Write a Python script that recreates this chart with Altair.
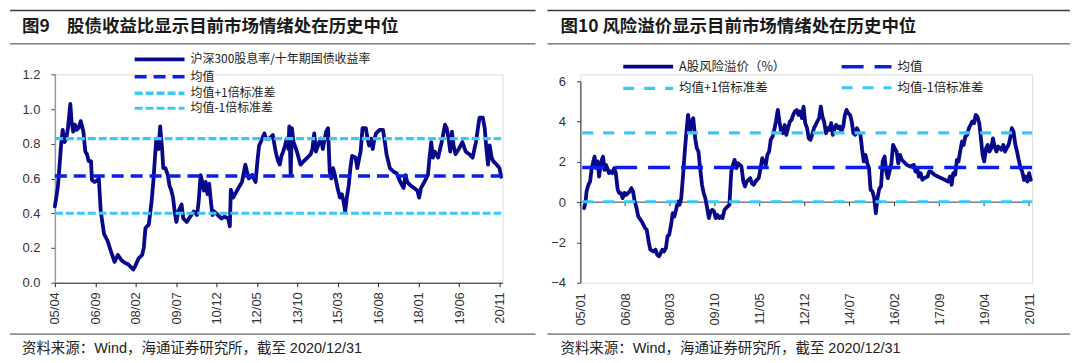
import altair as alt
import pandas as pd

LATIN = "Liberation Sans, Arial, Noto Sans CJK SC, sans-serif"
CJK = "Noto Sans CJK SC, Liberation Sans, sans-serif"

TITLE_L = "图9\u3000股债收益比显示目前市场情绪处在历史中位"
TITLE_R = "图10 风险溢价显示目前市场情绪处在历史中位"
SOURCE = "资料来源：Wind，海通证券研究所，截至 2020/12/31"

NAMES_L = ["沪深300股息率/十年期国债收益率", "均值", "均值+1倍标准差", "均值-1倍标准差"]
NAMES_R = ["A股风险溢价（%）", "均值", "均值+1倍标准差", "均值-1倍标准差"]

# reference levels: mean, mean+1sd, mean-1sd
REF_L = [0.615, 0.83, 0.40]
REF_R = [1.72, 3.44, 0.02]

TICKS_L = ["05/04", "06/09", "08/02", "09/07", "10/12", "12/05", "13/10",
           "15/03", "16/08", "18/01", "19/06", "20/11"]
TICKS_R = ["05/01", "06/08", "08/03", "09/10", "11/05", "12/12", "14/07",
           "16/02", "17/09", "19/04", "20/11"]

Y_TICKS_L = [0.0, 0.2, 0.4, 0.6, 0.8, 1.0, 1.2]
Y_TICKS_R = [-4, -3, -2, -1, 0, 1, 2, 3, 4, 5, 6]

# (months after start, value)
START_L = "2005-04-01"
SERIES_L = [
    (0.0, 0.44), (1.2, 0.545), (1.9, 0.66), (2.6, 0.79), (3.3, 0.88), (4.1, 0.81), (4.8, 0.83),
    (5.5, 0.89), (6.5, 1.03), (7.0, 0.93), (7.7, 0.87), (8.4, 0.91), (9.1, 0.88), (9.9, 0.89),
    (10.9, 0.93), (12.0, 0.87), (12.8, 0.755), (13.5, 0.74), (14.2, 0.70), (15.2, 0.70),
    (15.6, 0.59), (16.7, 0.58), (17.8, 0.59), (18.5, 0.60), (19.3, 0.41), (20.7, 0.28),
    (22.2, 0.24), (23.6, 0.18), (25.1, 0.12), (26.5, 0.16), (28.0, 0.13), (29.4, 0.115),
    (30.9, 0.105), (32.3, 0.086), (33.0, 0.076), (33.8, 0.096), (35.2, 0.14), (36.7, 0.16),
    (37.4, 0.20), (38.1, 0.315), (39.5, 0.335), (40.7, 0.47), (41.4, 0.58), (42.2, 0.74),
    (42.7, 0.83), (43.6, 0.77), (44.3, 0.90), (45.1, 0.77), (45.6, 0.66), (46.5, 0.66),
    (47.5, 0.62), (48.2, 0.56), (49.0, 0.53), (49.7, 0.49), (50.4, 0.41), (51.1, 0.35),
    (51.9, 0.41), (52.6, 0.43), (53.3, 0.45), (54.0, 0.37), (55.5, 0.35), (56.9, 0.38),
    (58.4, 0.41), (59.8, 0.39), (60.5, 0.47), (61.3, 0.62), (62.0, 0.58), (62.7, 0.53),
    (63.4, 0.58), (64.2, 0.51), (64.9, 0.57), (65.6, 0.47), (66.3, 0.39), (67.1, 0.41),
    (68.5, 0.39), (70.0, 0.37), (71.4, 0.38), (72.9, 0.37), (73.6, 0.325), (74.0, 0.535),
    (75.0, 0.49), (75.8, 0.51), (77.2, 0.545), (78.7, 0.58), (80.1, 0.68), (80.8, 0.64),
    (81.6, 0.60), (83.0, 0.62), (84.4, 0.58), (85.2, 0.70), (85.9, 0.79), (86.6, 0.81),
    (88.1, 0.86), (88.8, 0.83), (90.2, 0.83), (91.7, 0.85), (92.4, 0.79), (93.1, 0.74),
    (93.9, 0.70), (94.6, 0.68), (95.3, 0.73), (96.0, 0.755), (96.8, 0.79), (97.5, 0.83),
    (98.2, 0.77), (98.6, 0.90), (99.2, 0.62), (99.7, 0.89), (100.4, 0.81), (101.8, 0.755),
    (103.3, 0.68), (104.7, 0.70), (106.2, 0.72), (107.6, 0.74), (108.3, 0.77), (109.1, 0.86),
    (109.8, 0.755), (111.2, 0.81), (112.0, 0.83), (112.7, 0.77), (114.1, 0.87), (114.9, 0.89),
    (115.6, 0.64), (116.3, 0.60), (117.0, 0.66), (117.8, 0.62), (118.9, 0.545), (119.9, 0.49),
    (120.7, 0.51), (121.4, 0.47), (122.1, 0.41), (122.8, 0.49), (123.6, 0.56), (124.3, 0.66),
    (125.0, 0.73), (126.5, 0.72), (127.2, 0.66), (127.9, 0.71), (128.6, 0.755), (129.4, 0.89),
    (130.8, 0.89), (131.5, 0.83), (132.2, 0.79), (133.0, 0.83), (133.7, 0.77), (134.4, 0.83),
    (135.1, 0.86), (136.6, 0.88), (138.0, 0.88), (138.8, 0.81), (139.5, 0.74), (140.9, 0.66),
    (142.4, 0.64), (143.8, 0.63), (145.3, 0.58), (146.7, 0.545), (147.5, 0.62), (148.2, 0.58),
    (149.6, 0.56), (151.1, 0.545), (152.5, 0.53), (153.2, 0.49), (154.0, 0.545), (155.4, 0.58),
    (156.9, 0.62), (157.6, 0.72), (158.3, 0.81), (159.0, 0.72), (159.8, 0.755), (161.2, 0.72),
    (162.7, 0.81), (164.1, 0.91), (164.8, 0.89), (165.6, 0.83), (166.3, 0.755), (167.0, 0.87),
    (167.7, 0.79), (168.5, 0.74), (169.9, 0.77), (171.4, 0.81), (172.8, 0.755), (174.3, 0.74),
    (175.7, 0.72), (177.1, 0.81), (178.6, 0.95), (180.0, 0.95), (180.8, 0.89), (181.5, 0.77),
    (182.2, 0.68), (182.9, 0.79), (183.7, 0.72), (184.4, 0.70), (185.8, 0.68), (187.0, 0.66),
    (187.7, 0.61),
]

START_R = "2005-01-01"
SERIES_R = [
    (1.6, -0.30), (2.2, 0.03), (2.6, 0.53), (3.4, 0.86), (4.1, 1.02), (4.8, 1.69), (5.5, 2.02),
    (6.0, 2.26), (6.7, 1.69), (7.3, 2.02), (7.9, 1.27), (8.6, 1.85), (9.3, 2.18), (9.6, 2.26),
    (10.2, 1.60), (10.8, 1.85), (11.4, 1.69), (12.1, 1.44), (12.8, 1.52), (13.6, 1.44),
    (14.3, 1.69), (15.0, 1.44), (15.8, 0.61), (16.5, 0.45), (17.2, 0.45), (17.9, 0.20),
    (18.7, 0.45), (19.4, 0.36), (20.1, 0.45), (20.9, 0.53), (21.6, 0.69), (22.3, 0.53),
    (23.0, 0.03), (23.8, -0.30), (24.5, -0.71), (26.0, -0.96), (27.4, -1.29), (28.1, -1.37),
    (28.9, -1.95), (29.6, -2.36), (31.1, -2.45), (31.8, -2.36), (32.5, -2.61), (33.3, -2.69),
    (34.0, -2.53), (34.7, -2.36), (35.4, -2.45), (36.2, -2.28), (36.9, -1.70), (37.6, -1.62),
    (38.4, -1.12), (39.1, -0.55), (39.8, -0.71), (40.5, -0.38), (41.3, 0.03), (42.0, -0.13),
    (42.7, 0.20), (43.5, 1.36), (44.2, 2.51), (44.9, 3.50), (45.6, 4.33), (46.4, 3.50),
    (47.1, 4.0), (47.8, 4.17), (48.6, 3.17), (49.3, 2.68), (50.0, 2.51), (50.7, 1.69),
    (51.5, 0.86), (52.2, 0.45), (52.9, 0.20), (53.7, -0.30), (54.4, -0.79), (55.1, -0.46),
    (55.9, -0.38), (56.6, -0.46), (57.3, -0.79), (58.0, -0.63), (58.8, -0.79), (59.5, -0.71),
    (60.2, -0.79), (61.0, -0.38), (61.7, -0.30), (62.4, -0.21), (63.1, -0.13), (63.9, 1.52),
    (64.6, 1.85), (65.3, 2.10), (66.1, 1.69), (66.8, 1.93), (67.5, 1.85), (68.2, 1.77),
    (69.0, 1.02), (69.7, 0.78), (70.4, 1.02), (71.2, 1.11), (71.9, 1.19), (72.6, 0.94),
    (73.4, 0.86), (74.1, 1.02), (74.8, 1.11), (75.5, 1.19), (76.3, 1.69), (77.0, 2.18),
    (77.7, 2.02), (78.5, 1.85), (79.2, 2.35), (79.9, 2.51), (80.6, 3.09), (81.4, 3.26),
    (82.1, 3.59), (82.8, 4.0), (83.6, 4.58), (84.3, 4.0), (85.0, 3.50), (85.7, 3.42),
    (86.5, 3.83), (87.2, 3.34), (87.9, 3.67), (88.7, 4.0), (89.4, 4.08), (90.1, 4.33),
    (90.8, 4.50), (91.6, 4.58), (92.3, 4.33), (93.0, 4.50), (93.8, 4.17), (94.5, 4.74),
    (95.2, 3.92), (96.0, 3.67), (96.7, 3.17), (97.4, 3.09), (98.1, 3.34), (98.9, 3.67),
    (99.6, 3.83), (100.3, 4.0), (101.1, 4.17), (101.8, 4.74), (102.5, 4.25), (103.2, 4.0),
    (104.0, 3.42), (104.7, 3.67), (105.4, 3.59), (106.2, 3.92), (106.9, 3.34), (107.6, 3.67),
    (108.3, 3.83), (109.1, 3.67), (109.8, 3.75), (110.5, 3.50), (111.3, 3.75), (112.0, 4.33),
    (112.7, 4.58), (113.4, 4.41), (114.2, 4.33), (114.9, 4.0), (115.6, 3.42), (116.4, 3.34),
    (117.1, 3.67), (117.8, 3.50), (118.6, 3.34), (119.3, 2.60), (120.0, 2.02), (120.7, 2.35),
    (121.5, 1.93), (122.2, 1.69), (122.9, 0.61), (123.7, 0.53), (124.4, 0.20), (125.1, -0.55),
    (125.8, 0.20), (126.6, 0.69), (127.3, 0.78), (128.0, 2.02), (128.8, 2.26), (129.5, 1.52),
    (130.2, 1.19), (130.9, 1.52), (131.7, 1.93), (132.4, 2.84), (133.1, 2.68), (133.9, 2.51),
    (134.6, 1.93), (135.3, 2.35), (136.1, 2.10), (136.8, 2.02), (138.2, 1.85), (139.7, 1.77),
    (141.2, 1.85), (141.9, 1.52), (142.6, 1.69), (143.3, 1.27), (144.1, 1.44), (144.8, 1.11),
    (145.5, 1.19), (147.0, 1.27), (147.7, 1.52), (148.4, 1.52), (149.9, 1.36), (151.4, 1.27),
    (152.8, 1.19), (154.3, 1.11), (155.7, 1.02), (156.5, 1.27), (157.2, 0.86), (157.9, 1.44),
    (158.7, 1.36), (159.4, 2.10), (160.1, 2.02), (160.8, 2.51), (161.6, 3.01), (162.3, 2.84),
    (163.0, 3.26), (163.8, 3.34), (164.5, 3.67), (165.2, 3.83), (165.9, 4.0), (166.7, 3.92),
    (167.4, 4.33), (168.1, 4.25), (168.9, 3.92), (169.6, 3.17), (170.3, 2.35), (171.0, 2.02),
    (171.8, 2.68), (172.5, 2.84), (173.2, 2.51), (174.0, 2.68), (174.7, 3.17), (175.4, 2.76),
    (176.2, 2.51), (176.9, 2.76), (177.6, 2.68), (178.3, 2.60), (179.1, 2.84), (179.8, 2.51),
    (180.5, 2.68), (181.3, 2.84), (182.0, 3.17), (182.7, 3.67), (183.4, 3.50), (184.2, 2.84),
    (184.9, 2.51), (185.6, 2.10), (186.4, 1.69), (187.1, 1.52), (187.8, 1.11), (188.5, 1.27),
    (189.3, 1.02), (190.0, 1.44), (190.7, 1.11),
]

# span of the reference lines, months after start
SPAN_L = (0.0, 187.7)
SPAN_R = (0.8, 191.3)

NAVY = "#08088a"
BLUE = "#0c1ee8"
CYAN = "#3cc8f6"


def to_dates(start, months):
    base = pd.Timestamp(start)
    return [base + pd.Timedelta(days=float(m) * 30.4375) for m in months]


def tick_dt(label):
    yy, mm = label.split("/")
    return alt.DateTime(year=2000 + int(yy), month=int(mm), date=1)


def build_frames(start, series, names, refs, span):
    main = pd.DataFrame({
        "date": to_dates(start, [p[0] for p in series]),
        "value": [p[1] for p in series],
        "series": names[0],
    })
    rows = []
    for name, level in zip(names[1:], refs):
        for d in to_dates(start, span):
            rows.append({"date": d, "value": level, "series": name})
    return main, pd.DataFrame(rows)


def deco(W, dx_left, dx_text, title):
    one = pd.DataFrame({"t": [title], "s": [SOURCE]})
    base = alt.Chart(one)
    top_rule = base.mark_rule(color="#3a3a3a", strokeWidth=1.6).encode(
        x=alt.value(dx_left), x2=alt.value(dx_left + W), y=alt.value(-64))
    sub_rule = base.mark_rule(color="#3a3a3a", strokeWidth=1).encode(
        x=alt.value(dx_left), x2=alt.value(dx_left + W), y=alt.value(-30.5))
    foot_rule = base.mark_rule(color="#3a3a3a", strokeWidth=1).encode(
        x=alt.value(dx_left), x2=alt.value(dx_left + W), y=alt.value(260.5))
    ttl = base.mark_text(align="left", baseline="middle", font=CJK, fontSize=17.5,
                         fontWeight="bold", color="#1a1a1a").encode(
        x=alt.value(dx_text), y=alt.value(-47), text="t:N")
    src = base.mark_text(align="left", baseline="middle", font=LATIN, fontSize=14.5,
                         color="#222222").encode(
        x=alt.value(dx_text), y=alt.value(275), text="s:N")
    return [top_rule, sub_rule, foot_rule, ttl, src]


def panel(start, series, names, refs, span, ticks, yticks, yfmt, W, H,
          dashes, widths, legend, y_axis_color, yrange=None, zero_rule=False,
          dx_left=0, dx_text=0, title="", deco_w=500):
    main, ref = build_frames(start, series, names, refs, span)
    xdom = [alt.DateTime(year=int(start[:4]), month=int(start[5:7]), date=1),
            alt.DateTime(year=2020, month=12, date=10)]
    x_axis = alt.Axis(values=[tick_dt(t) for t in ticks], format="%y/%m",
                      labelAngle=270, labelFont=LATIN, labelFontSize=13,
                      labelColor="#333333", grid=False, title=None,
                      domain=not zero_rule, domainColor="#222222",
                      tickColor="#222222" if not zero_rule else "transparent",
                      tickSize=4, labelPadding=5 if not zero_rule else 6)
    if yrange is not None:
        yscale = alt.Scale(domain=[yticks[0], yticks[-1]], nice=False, zero=False,
                           range=yrange)
    else:
        yscale = alt.Scale(domain=[yticks[0], yticks[-1]], nice=False, zero=False)
    y_axis = alt.Axis(values=yticks, format=yfmt, labelFont=LATIN, labelFontSize=13,
                      labelColor="#333333", grid=False, title=None,
                      domainColor=y_axis_color, domainWidth=1.5 if not zero_rule else 1,
                      tickColor="#444444", tickSize=4, labelPadding=11)
    x_enc = alt.X("date:T", scale=alt.Scale(domain=xdom), axis=x_axis)
    y_enc = alt.Y("value:Q", scale=yscale, axis=y_axis)

    enc = dict(
        color=alt.Color("series:N", scale=alt.Scale(domain=names, range=[NAVY, BLUE, CYAN, CYAN]),
                        legend=legend),
        strokeDash=alt.StrokeDash("series:N", scale=alt.Scale(domain=names, range=dashes),
                                  legend=legend),
        strokeWidth=alt.StrokeWidth("series:N", scale=alt.Scale(domain=names, range=widths),
                                    legend=legend),
    )
    layers = []
    if zero_rule:
        tick_df = pd.DataFrame({"lab": ticks})
        tick_df["date"] = [pd.Timestamp(year=2000 + int(t[:2]), month=int(t[3:]), day=1)
                           for t in ticks]
        zr = alt.Chart(pd.DataFrame({"v": [0]})).mark_rule(color="#3a3a3a", strokeWidth=1).encode(
            x=alt.datum(xdom[0]), x2=alt.datum(xdom[1]), y=alt.datum(0))
        tk = alt.Chart(tick_df).mark_rule(color="#3a3a3a", strokeWidth=1).encode(
            x=alt.X("date:T"), y=alt.datum(0), y2=alt.datum(-0.2))
        layers += [zr, tk]
    line = alt.Chart(main).mark_line(strokeJoin="round", strokeCap="round").encode(
        x=x_enc, y=y_enc, **enc)
    refl = alt.Chart(ref).mark_line().encode(x=x_enc, y=y_enc, detail="series:N", **enc)
    layers += [line, refl]
    layers += deco(deco_w, dx_left, dx_text, title)
    return alt.layer(*layers).properties(width=W, height=H)


SYMBOL = "M-5,0H5"

legend_l = alt.Legend(orient="none", legendX=98, legendY=-22, title=None,
                      symbolType=SYMBOL, symbolSize=100, labelFont=CJK,
                      labelFontSize=12, labelColor="#222222", labelOffset=24,
                      labelLimit=0, rowPadding=1.5, direction="vertical")
legend_r = alt.Legend(orient="none", legendX=61, legendY=-15, title=None,
                      symbolType=SYMBOL, symbolSize=100, labelFont=CJK,
                      labelFontSize=12.5, labelColor="#222222", labelOffset=24,
                      labelLimit=0, rowPadding=7, columns=2, columnPadding=48,
                      direction="horizontal")

left = panel(START_L, SERIES_L, NAMES_L, REF_L, SPAN_L, TICKS_L, Y_TICKS_L, ".1f",
             449, 209, [[1, 0], [12, 7], [8, 3], [8, 3]], [3.8, 3, 3, 3], legend_l,
             "#999999", dx_left=-45, dx_text=-33, title=TITLE_L, deco_w=527)
right = panel(START_R, SERIES_R, NAMES_R, REF_R, SPAN_R, TICKS_R, Y_TICKS_R, "d",
              453, 209, [[1, 0], [22, 11], [11, 10], [11, 10]], [3.8, 3, 3, 3], legend_r,
              "#222222", yrange=[209, 7], zero_rule=True, dx_left=-33, dx_text=-20,
              title=TITLE_R, deco_w=524)

chart = alt.hconcat(left, right, spacing=78, bounds="flush").resolve_scale(
    color="independent", strokeDash="independent", strokeWidth="independent",
    x="independent", y="independent"
).resolve_legend(color="independent", strokeDash="independent",
                 strokeWidth="independent").properties(padding=0).configure_view(
    stroke=None).configure(font=LATIN)

chart.save("out.html", embed_options={"renderer": "svg", "actions": False})
